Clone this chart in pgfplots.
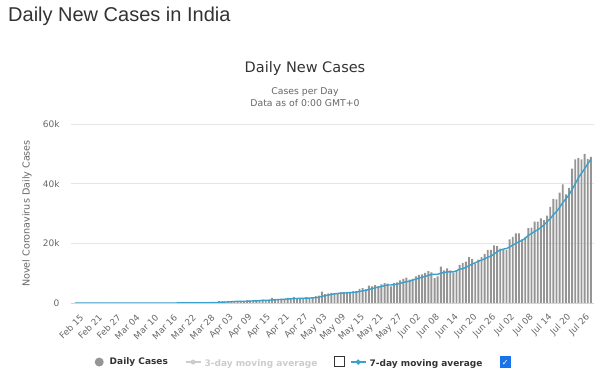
\documentclass[border=0pt]{standalone}
\usepackage{pgfplots}
\pgfplotsset{compat=1.18}
\usepackage{pgfplotstable}
\usepackage{fontspec}
\setmainfont{DejaVu Sans}
\newfontfamily\titlefont{Liberation Sans}
\definecolor{txt}{HTML}{333333}
\definecolor{lbl}{HTML}{666666}
\definecolor{gridc}{HTML}{E6E6E6}
\definecolor{axisc}{HTML}{CCD6EB}
\definecolor{barc}{HTML}{959595}
\definecolor{avgc}{HTML}{3AA0CC}
\definecolor{lightc}{HTML}{CCCCCC}
\definecolor{chk}{HTML}{1A73E8}

\pgfplotstableread{
i d a
0 0 0
1 0 0
2 0 0
3 0 0
4 0 0
5 0 0
6 0 0
7 0 0
8 0 0
9 0 0
10 0 0
11 0 0
12 0 0
13 0 0
14 0 0
15 0 0
16 2 0
17 1 0
18 22 4
19 2 4
20 1 4
21 3 4
22 5 5
23 4 5
24 13 7
25 6 5
26 11 6
27 9 7
28 20 10
29 11 11
30 6 11
31 23 12
32 14 13
33 38 17
34 50 23
35 86 33
36 66 40
37 103 54
38 37 56
39 121 72
40 70 76
41 160 92
42 100 94
43 106 100
44 227 117
45 146 133
46 601 201
47 545 269
48 478 315
49 515 374
50 506 431
51 704 499
52 508 551
53 485 534
54 591 541
55 896 601
56 768 637
57 918 696
58 705 696
59 1060 775
60 1118 865
61 826 899
62 1076 924
63 1700 1058
64 1000 1069
65 1336 1159
66 1383 1206
67 1409 1247
68 1684 1370
69 1429 1420
70 1990 1462
71 1396 1518
72 1543 1548
73 1594 1578
74 1897 1648
75 1718 1652
76 1993 1733
77 2293 1776
78 2487 1932
79 3800 2255
80 2963 2450
81 3200 2636
82 3364 2871
83 3344 3064
84 3113 3182
85 3600 3341
86 3604 3313
87 3524 3393
88 3763 3473
89 3942 3556
90 3970 3645
91 4700 3872
92 5000 4072
93 4630 4218
94 5800 4544
95 5600 4806
96 6000 5100
97 5600 5333
98 6200 5547
99 6700 5790
100 6500 6057
101 5600 6029
102 6700 6186
103 6900 6314
104 7600 6600
105 8100 6871
106 8500 7129
107 7800 7314
108 8100 7671
109 8900 7986
110 9400 8343
111 9600 8629
112 10100 8914
113 10700 9229
114 10300 9586
115 8300 9614
116 8900 9614
117 12200 10014
118 10900 10200
119 11600 10414
120 10900 10443
121 10100 10414
122 10900 10786
123 12800 11343
124 13400 11514
125 13900 11943
126 15400 12486
127 14700 13029
128 13200 13471
129 14500 13986
130 15400 14357
131 16500 14800
132 17800 15357
133 17800 15700
134 19300 16357
135 19100 17200
136 18200 17729
137 17800 18071
138 17800 18257
139 21300 18757
140 22200 19386
141 23300 19957
142 23300 20557
143 21300 21000
144 22200 21629
145 25100 22671
146 25300 23243
147 27300 23971
148 27300 24543
149 28400 25271
150 27800 26200
151 29300 27214
152 32200 28229
153 34900 29600
154 34700 30657
155 37000 32043
156 39800 33671
157 36400 34900
158 38600 36229
159 45000 38057
160 48100 39943
161 48600 41929
162 48100 43514
163 50000 44971
164 48300 46671
165 49000 48157
}\covid

\begin{document}
\begin{tikzpicture}
\path[use as bounding box] (0pt,0pt) rectangle (600pt,382pt);
% page title
\node[anchor=base west, inner sep=0pt, text=txt] at (8pt,360pt) {\titlefont\fontsize{20}{24}\selectfont Daily New Cases in India};
% chart title and subtitle
\node[anchor=base, inner sep=0pt, text=txt] at (305pt,309pt) {\fontsize{14.5}{17}\selectfont Daily New Cases};
\node[anchor=base, inner sep=0pt, text=lbl] at (305pt,287pt) {\fontsize{9.3}{11}\selectfont Cases per Day};
\node[anchor=base, inner sep=0pt, text=lbl] at (305pt,275pt) {\fontsize{9.3}{11}\selectfont Data as of 0:00 GMT+0};

\begin{axis}[
  at={(71pt,79pt)}, anchor=south west,
  scale only axis, width=523pt, height=179pt,
  xmin=-1.3, xmax=166, ymin=0, ymax=60000,
  scaled y ticks=false,
  axis x line*=bottom, axis y line*=left,
  y axis line style={draw=none},
  x axis line style={axisc, line width=0.8pt, -},
  major tick length=0pt,
  ymajorgrids, grid style={gridc, line width=0.7pt},
  ytick={0,20000,40000,60000},
  yticklabels={0,20k,40k,60k},
  yticklabel style={text=lbl, font=\fontsize{9}{10}\selectfont, xshift=-8pt},
  xtick={0,6,...,162},
  xticklabels={Feb 15,Feb 21,Feb 27,Mar 04,Mar 10,Mar 16,Mar 22,Mar 28,Apr 03,Apr 09,Apr 15,Apr 21,Apr 27,May 03,May 09,May 15,May 21,May 27,Jun 02,Jun 08,Jun 14,Jun 20,Jun 26,Jul 02,Jul 08,Jul 14,Jul 20,Jul 26},
  xticklabel style={text=lbl, font=\fontsize{8.8}{10}\selectfont, rotate=45, anchor=east, xshift=-1pt, yshift=-14pt},
  ylabel={Novel Coronavirus Daily Cases},
  ylabel style={text=lbl, font=\fontsize{9.6}{11}\selectfont, at={(axis description cs:-0.084,0.5)}, anchor=center},
  /pgf/number format/assume math mode=true,
  legend columns=3,
  legend style={draw=none, fill=none, inner sep=0pt, at={(axis description cs:0.045,-0.33)}, anchor=west,
    font=\bfseries\fontsize{9}{10}\selectfont, text=txt,
    /tikz/every even column/.append style={column sep=0pt},
    cells={anchor=west}},
]
\addplot[ybar, bar width=1.9pt, fill=barc, draw=none, forget plot] table[x=i, y=d] {\covid};
\addplot[avgc, line width=1.4pt, no marks, forget plot] table[x=i, y=a] {\covid};

\addlegendimage{legend image code/.code={\path[draw=none, fill=none] (0pt,0pt) -- (13pt,0pt); \fill[barc, draw=none] (4.5pt,0pt) circle (4.5pt);}}
\addlegendentry{Daily Cases\hspace*{15pt}\null}
\addlegendimage{legend image code/.code={\path[draw=none, fill=none] (0pt,0pt) -- (17pt,0pt); \draw[lightc, line width=1.3pt] (0pt,0pt) -- (15pt,0pt); \fill[lightc, draw=none] (7.5pt,0pt) circle (2.5pt);}}
\addlegendentry{\textcolor{lightc}{3-day moving average}\hspace*{17pt}{\setlength{\fboxsep}{0pt}\setlength{\fboxrule}{0.8pt}\fcolorbox{txt}{white}{\rule{0pt}{9pt}\hspace{9pt}}}\hspace*{3pt}\null}
\addlegendimage{legend image code/.code={\path[draw=none, fill=none] (0pt,0pt) -- (17pt,0pt); \draw[avgc, line width=1.3pt] (0pt,0pt) -- (15pt,0pt); \fill[avgc, draw=none] (7.5pt,2.8pt) -- (10.3pt,0pt) -- (7.5pt,-2.8pt) -- (4.7pt,0pt) -- cycle;}}
\addlegendentry{7-day moving average\hspace*{17pt}{\setlength{\fboxsep}{0pt}\setlength{\fboxrule}{0.8pt}\fcolorbox{chk}{chk}{\makebox[10pt]{\rule{0pt}{10pt}\textcolor{white}{\fontsize{8}{8}\selectfont\raisebox{1.2pt}{✓}}}}}}
\end{axis}
\end{tikzpicture}
\end{document}
